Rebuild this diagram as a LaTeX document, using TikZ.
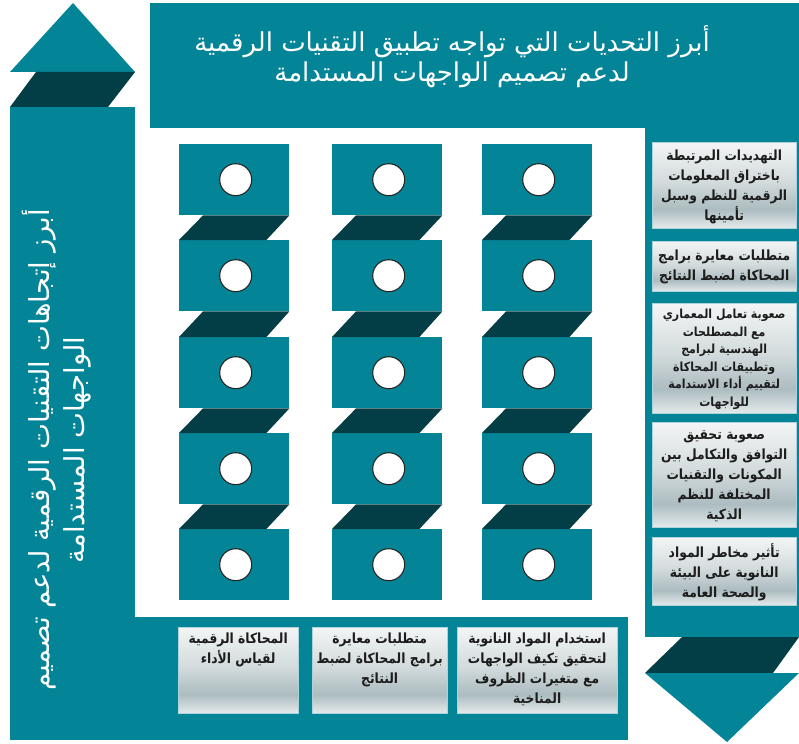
\documentclass[tikz,border=0pt]{standalone}
\usepackage{fontspec}
\newfontfamily\arabicfont[Script=Arabic]{DejaVu Sans}
\newfontfamily\cardfont[Script=Arabic, FakeStretch=0.88]{DejaVu Sans}
\TeXXeTstate=1
\newcommand\rl[1]{\beginR #1\endR}

\definecolor{panel}{RGB}{3,132,151}
\definecolor{fold}{RGB}{3,62,70}
\definecolor{cardhi}{RGB}{243,245,245}
\definecolor{cardmid}{RGB}{211,219,220}
\definecolor{carddk}{RGB}{172,188,192}
\definecolor{cardlo}{RGB}{228,234,235}
\definecolor{cardtext}{RGB}{28,28,28}

\pgfdeclareverticalshading{cardshade}{100bp}{color(0bp)=(cardlo); color(25bp)=(cardlo); color(36bp)=(carddk); color(52bp)=(cardmid); color(75bp)=(cardhi); color(100bp)=(cardhi)}

\tikzset{
  panelfill/.style={fill=panel},
  foldfill/.style={fill=fold},
  block/.style={rectangle, fill=panel, minimum width=110, minimum height=71, inner sep=0, anchor=north west},
  hole/.style={circle, fill=white, draw=black!85, line width=1.1pt, minimum size=32, inner sep=0},
  card/.style={rectangle, shade, shading=cardshade, draw=cardhi!70!panel, line width=0.4pt, inner sep=0, anchor=north west},
  cardlabel/.style={text=cardtext, align=center, font=\cardfont\bfseries\fontsize{14}{20}\selectfont, inner sep=0},
  smalllabel/.style={cardlabel, font=\cardfont\bfseries\fontsize{12.5}{17.5}\selectfont},
  headline/.style={text=white, align=center, font=\arabicfont\fontsize{26}{30}\selectfont, inner sep=0},
  sideline/.style={headline, font=\arabicfont\fontsize{27.5}{35}\selectfont},
}

\begin{document}
\begin{tikzpicture}[x=1pt,y=-1pt]
\useasboundingbox (0,0) rectangle (799,743);

% upward arrow and left column
\fill[panelfill] (10,72) -- (73,3) -- (135,72) -- cycle;
\fill[foldfill] (10,107) -- (36,72) -- (135,72) -- (108,107) -- cycle;
\node[panelfill, inner sep=0, minimum width=125, minimum height=633, anchor=north west] (leftbar) at (10,107) {};
\node[panelfill, inner sep=0, minimum width=493, minimum height=123, anchor=north west] (bottombar) at (135,617) {};

% top bar, right column and downward arrow
\node[panelfill, inner sep=0, minimum width=649, minimum height=125, anchor=north west] (topbar) at (150,3) {};
\node[panelfill, inner sep=0, minimum width=154, minimum height=510, anchor=north west] (rightbar) at (645,127) {};
\fill[foldfill] (682,637) -- (799,637) -- (773,673) -- (645,673) -- cycle;
\fill[panelfill] (645,673) -- (799,673) -- (727,742) -- cycle;

% headings
\node[headline] (title) at (452,57) {\rl{أبرز التحديات التي تواجه تطبيق التقنيات الرقمية}\\\rl{لدعم تصميم الواجهات المستدامة}};
\node[sideline, rotate=90] (sidetitle) at (57,450) {\rl{أبرز إتجاهات التقنيات الرقمية لدعم تصميم}\\\rl{الواجهات المستدامة}};

% folded strips of blocks
\foreach \c/\x in {1/179, 2/332, 3/482} {
  \foreach \r/\y in {1/144, 2/240, 3/337, 4/433, 5/529} {
    \node[block] (b\c\r) at (\x,\y) {};
    \node[hole] (h\c\r) at ([xshift=1.5pt]b\c\r.center) {};
  }
  \foreach \r [evaluate=\r as \n using int(\r+1)] in {1,2,3,4} {
    \fill[foldfill] (b\c\n.north west) -- ([xshift=24pt]b\c\r.south west) -- (b\c\r.south east) -- ([xshift=-23pt]b\c\n.north east) -- cycle;
  }
}

% challenge cards
\node[card, minimum width=144, minimum height=86] (r1) at (652,142) {};
\node[card, minimum width=144, minimum height=50] (r2) at (652,241) {};
\node[card, minimum width=144, minimum height=110] (r3) at (652,303) {};
\node[card, minimum width=144, minimum height=105] (r4) at (652,422) {};
\node[card, minimum width=144, minimum height=68] (r5) at (652,537) {};

\node[cardlabel] (r1t) at ([yshift=-2pt]r1.center) {\rl{التهديدات المرتبطة}\\\rl{باختراق المعلومات}\\\rl{الرقمية للنظم وسبل}\\\rl{تأمينها}};
\node[cardlabel] (r2t) at ([yshift=-1pt]r2.center) {\rl{متطلبات معايرة برامج}\\\rl{المحاكاة لضبط النتائج}};
\node[smalllabel] (r3t) at ([yshift=-1pt]r3.center) {\rl{صعوبة تعامل المعماري}\\\rl{مع المصطلحات}\\\rl{الهندسية لبرامج}\\\rl{وتطبيقات المحاكاة}\\\rl{لتقييم أداء الاستدامة}\\\rl{للواجهات}};
\node[cardlabel] (r4t) at ([yshift=-2pt]r4.center) {\rl{صعوبة تحقيق}\\\rl{التوافق والتكامل بين}\\\rl{المكونات والتقنيات}\\\rl{المختلفة للنظم}\\\rl{الذكية}};
\node[cardlabel] (r5t) at ([yshift=-1pt]r5.center) {\rl{تأثير مخاطر المواد}\\\rl{النانوية على البيئة}\\\rl{والصحة العامة}};

% trend cards
\node[card, minimum width=120, minimum height=86] (t1) at (178,627) {};
\node[card, minimum width=135, minimum height=86] (t2) at (312,627) {};
\node[card, minimum width=160, minimum height=86] (t3) at (457,627) {};

\node[cardlabel, anchor=north] (t1t) at ([yshift=-6pt]t1.north) {\rl{المحاكاة الرقمية}\\\rl{لقياس الأداء}};
\node[cardlabel, anchor=north] (t2t) at ([yshift=-6pt]t2.north) {\rl{متطلبات معايرة}\\\rl{برامج المحاكاة لضبط}\\\rl{النتائج}};
\node[cardlabel, anchor=north] (t3t) at ([yshift=-6pt]t3.north) {\rl{استخدام المواد النانوية}\\\rl{لتحقيق تكيف الواجهات}\\\rl{مع متغيرات الظروف}\\\rl{المناخية}};
\end{tikzpicture}
\end{document}
